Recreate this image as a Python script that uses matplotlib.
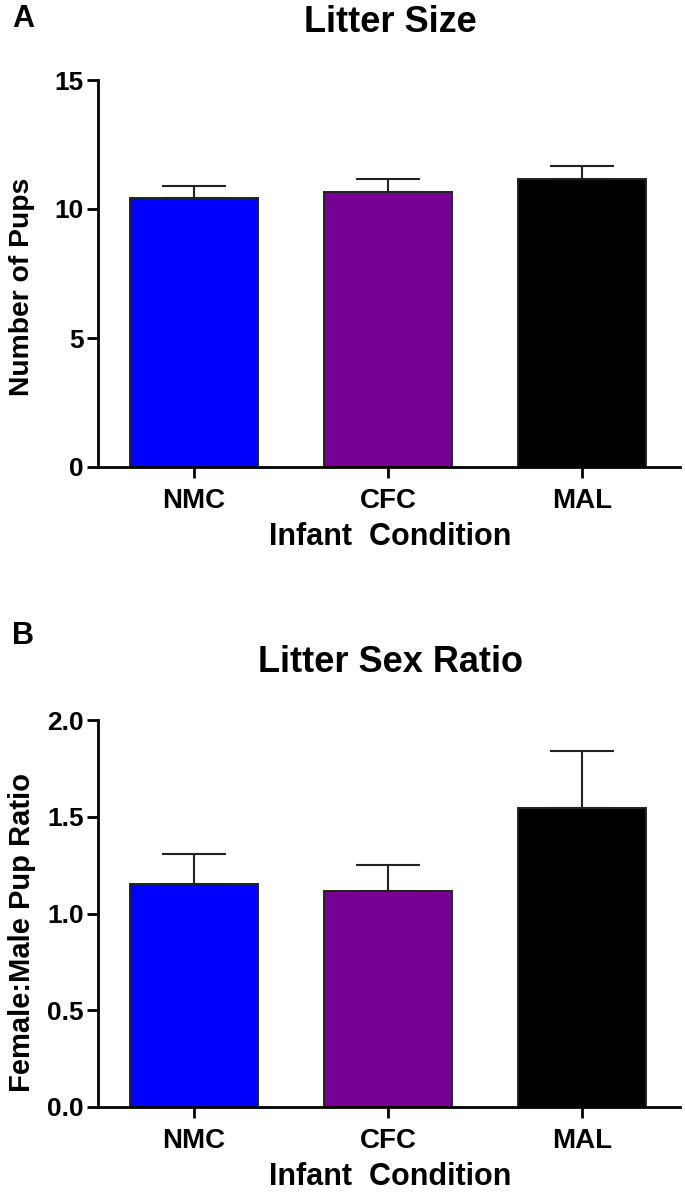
import numpy as np
import matplotlib
matplotlib.use("Agg")
import matplotlib.pyplot as plt

plt.rcParams['font.family'] = ['Liberation Sans', 'DejaVu Sans']
plt.rcParams['font.weight'] = 'bold'

conditions = ["NMC", "CFC", "MAL"]
bar_colors = ["#0000ff", "#770094", "#000000"]

litter_size = [10.42, 10.65, 11.16]
litter_size_sem = [0.49, 0.53, 0.51]

sex_ratio = [1.151, 1.116, 1.544]
sex_ratio_sem = [0.158, 0.136, 0.297]

W, H = 685, 1193


def draw_panel(ax, means, sems, ylim, yticks, yticklabels, ylabel, ylabel_size, ylabel_y):
    x = np.arange(len(conditions))
    ax.bar(x, means, width=0.66, color=bar_colors, edgecolor="#222222", linewidth=1.4, zorder=2)
    ax.errorbar(x, means, yerr=[np.zeros(len(sems)), sems], fmt="none", ecolor="#222222",
                elinewidth=1.5, capsize=23, capthick=1.5, zorder=1)
    ax.set_xlim(-0.495, 2.505)
    ax.set_ylim(*ylim)
    ax.set_yticks(yticks)
    ax.set_yticklabels(yticklabels, fontsize=19, fontweight="bold")
    ax.set_xticks(x)
    ax.set_xticklabels(conditions, fontsize=20, fontweight="bold")
    ax.tick_params(axis="both", length=8, width=2.0, direction="out")
    ax.tick_params(axis="y", pad=2)
    ax.tick_params(axis="x", pad=7)
    ax.spines["top"].set_visible(False)
    ax.spines["right"].set_visible(False)
    ax.spines["left"].set_linewidth(2.0)
    ax.spines["bottom"].set_linewidth(2.0)
    ax.set_xlabel("Infant  Condition", fontsize=22, fontweight="bold")
    ax.xaxis.set_label_coords(0.502, -70 / 387)
    ax.xaxis.label.set_va("center")
    ax.set_ylabel(ylabel, fontsize=ylabel_size, fontweight="bold")
    ax.yaxis.set_label_coords((22 - 98) / 582, ylabel_y)
    ax.yaxis.label.set_va("center")


fig = plt.figure(figsize=(W / 100, H / 100), dpi=100)
ax1 = fig.add_axes([98 / W, 1 - 467 / H, 582 / W, 387 / H])
ax2 = fig.add_axes([98 / W, 1 - 1107 / H, 582 / W, 387 / H])

draw_panel(ax1, litter_size, litter_size_sem, (0, 15), [0, 5, 10, 15],
           ["0", "5", "10", "15"], "Number of Pups", 20.3, 0.465)
draw_panel(ax2, sex_ratio, sex_ratio_sem, (0, 2.0), [0.0, 0.5, 1.0, 1.5, 2.0],
           ["0.0", "0.5", "1.0", "1.5", "2.0"], "Female:Male Pup Ratio", 21, 0.452)

fig.text(390 / W, 1 - 22 / H, "Litter Size", fontsize=26, fontweight="bold", ha="center", va="center")
fig.text(390 / W, 1 - 662 / H, "Litter Sex Ratio", fontsize=26, fontweight="bold", ha="center", va="center")

fig.text(12 / W, 1 - 19 / H, "A", fontsize=22, fontweight="bold", ha="left", va="center")
fig.text(12 / W, 1 - 636 / H, "B", fontsize=22, fontweight="bold", ha="left", va="center")

fig.savefig("out.png", dpi=100)
